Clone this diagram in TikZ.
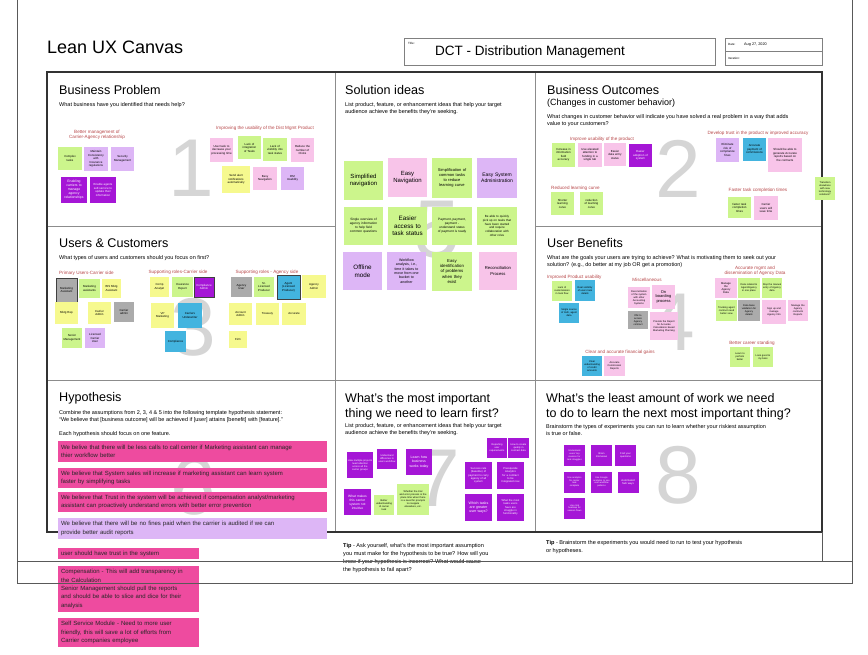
\documentclass[tikz,border=0pt]{standalone}
\usepackage{fontspec}
\setmainfont{Liberation Sans}

\definecolor{notegreen}{HTML}{CCF58C}
\definecolor{notepink}{HTML}{F8C4E9}
\definecolor{notelav}{HTML}{DDB6F6}
\definecolor{notepurple}{HTML}{A516D6}
\definecolor{noteyellow}{HTML}{F6F98E}
\definecolor{noteblue}{HTML}{43B4DF}
\definecolor{notegray}{HTML}{ABABAB}
\definecolor{hotpink}{HTML}{EE4B9F}
\definecolor{labelred}{HTML}{B8484A}
\definecolor{bignum}{HTML}{D5D5D5}

\begin{document}
\begin{tikzpicture}[x=1pt,y=-1pt,
  note/.style 2 args={minimum width=#1, minimum height=#2, text width=#1pt,
    inner sep=0pt, align=center, font=\fontsize{2.9}{3.5}\selectfont},
  gn/.style={fill=notegreen}, pk/.style={fill=notepink}, lv/.style={fill=notelav},
  pu/.style={fill=notepurple, text=white}, ye/.style={fill=noteyellow},
  bl/.style={fill=noteblue}, gy/.style={fill=notegray},
  rim/.style={draw=black!75, line width=0.9pt},
  lab/.style={text=labelred, align=center, inner sep=0pt, font=\fontsize{4.6}{5.6}\selectfont},
  head/.style={anchor=base west, inner sep=0pt, font=\fontsize{12.6}{15}\selectfont},
  sub/.style={anchor=north west, align=left, inner sep=0pt, font=\fontsize{5.5}{7}\selectfont},
  num/.style={anchor=base, text=bignum, inner sep=0pt, font=\fontsize{82}{82}\selectfont},
  hyp/.style={minimum width=269, minimum height=#1, text width=263pt, inner xsep=3pt,
    inner ysep=0pt, align=left, text=black!85, font=\fontsize{6}{8.2}\selectfont},
  memo/.style={fill=hotpink, minimum width=141, minimum height=#1, text width=135pt, inner xsep=3pt,
    inner ysep=0pt, align=left, text=black!85, font=\fontsize{6}{8.3}\selectfont},
  divider/.style={draw=black!45, line width=0.8pt},
  pageline/.style={draw=black!65, line width=0.8pt}
]
\useasboundingbox (0,0) rectangle (868,655);
\fill[white] (0,0) rectangle (868,655);

% Header
\node[anchor=base west, inner sep=0pt, font=\fontsize{18}{20}\selectfont] (canvastitle) at (47,53.5) {Lean UX Canvas};
\draw[draw=black!50, line width=0.6pt] (404,38) rectangle (715,65);
\node[anchor=north west, inner sep=0pt, font=\fontsize{3}{3}\selectfont] (titlelab) at (408,42) {Title:};
\node[anchor=base west, inner sep=0pt, font=\fontsize{13.5}{15}\selectfont] (projtitle) at (435,56) {DCT - Distribution Management};
\draw[draw=black!50, line width=0.6pt] (725,38) rectangle (822,51);
\draw[draw=black!50, line width=0.6pt] (725,51) rectangle (822,65);
\node[anchor=west, inner sep=0pt, font=\fontsize{3}{3}\selectfont] (datelab) at (728,44.5) {Date:};
\node[anchor=west, inner sep=0pt, font=\fontsize{3.8}{4}\selectfont] (datetxt) at (744,44.5) {Aug 27, 2020};
\node[anchor=west, inner sep=0pt, font=\fontsize{3}{3}\selectfont] (iterlab) at (728,58) {Iteration:};

% Big numbers
\foreach \n/\x/\y in {1/191/197, 2/678/198, 3/193/355, 4/672/350, 5/437/258, 6/193/514, 7/437/506, 8/678/503}
  \node[num] (big\n) at (\x,\y) {\n};

% Canvas frame and dividers
\draw[divider] (335,72) -- (335,532);
\draw[divider] (535,72) -- (535,532);
\draw[divider] (47,226) -- (335,226);
\draw[divider] (535,226) -- (822,226);
\draw[divider] (47,380) -- (822,380);
\draw[draw=black!80, line width=1.6pt] (47,72) rectangle (822,532);
\draw[pageline] (822,532) -- (822,561);

% Business Problem
\node[head] (bphead) at (59,94.5) {Business Problem};
\node[sub] (bpsub) at (59,102.5) {What business have you identified that needs help?};
\node[lab] (bplab1) at (97,135) {Better management of\\Carrier-Agency relationship};
\node[lab] (bplab2) at (265,128) {Improving the usability of the Dist Mgmt Product};
\node[note={24}{23}, gn] (bp1) at (70,158.5) {Complex\\tasks};
\node[note={24}{24}, lv] (bp2) at (96,159) {Maintain\\Consistency\\with\\Insurance\\regulations};
\node[note={23}{24}, lv] (bp3) at (122.5,159) {Security\\Management};
\node[note={26}{26}, pu, font=\fontsize{3.4}{4}\selectfont] (bp4) at (74,190) {Enabling\\carriers to\\manage\\agency\\relationships};
\node[note={26}{26}, pu] (bp5) at (103,190) {Enable agents\\self-service to\\update their\\information};
\node[note={23}{24}, pk] (bp6) at (221.5,150) {User task to\\decrease your\\processing time};
\node[note={23}{23}, gn] (bp7) at (249.5,147.5) {Lack of\\integration\\of Tasks};
\node[note={24}{23}, gn] (bp8) at (275,149.5) {Lack of\\visibility into\\task status};
\node[note={23}{24}, pk] (bp9) at (302.5,150) {Reduce the\\number of\\Clicks};
\node[note={28}{27}, ye] (bp10) at (236,179.5) {Send alert\\notifications\\automatically};
\node[note={24}{23}, pk] (bp11) at (265,178.5) {Easy\\Navigation};
\node[note={23}{23}, lv] (bp12) at (292.5,178.5) {DM\\Usability};

% Solution ideas
\node[head] (sihead) at (345,94.5) {Solution ideas};
\node[sub] (sisub) at (345,102.5) {List product, feature, or enhancement ideas that help your target\\audience achieve the benefits they're seeking.};
\node[note={39}{39}, gn, font=\fontsize{6}{7.4}\selectfont] (si1) at (363.5,180.5) {Simplified\\navigation};
\node[note={39}{39}, pk, font=\fontsize{6}{7.4}\selectfont] (si2) at (407.5,177.5) {Easy\\Navigation};
\node[note={40}{40}, gn, font=\fontsize{4}{5}\selectfont] (si3) at (452,178) {Simplification of\\common tasks\\to reduce\\learning curve};
\node[note={40}{40}, lv, font=\fontsize{5}{6.2}\selectfont] (si4) at (497,178) {Easy System\\Administration};
\node[note={39}{38}, gn, font=\fontsize{3.2}{4}\selectfont] (si5) at (363.5,226) {Single overview of\\agency information\\to help field\\common questions};
\node[note={39}{38}, gn, font=\fontsize{6.3}{7.6}\selectfont] (si6) at (407.5,226) {Easier\\access to\\task status};
\node[note={40}{38}, gn, font=\fontsize{3.2}{4}\selectfont] (si7) at (452,226) {Payment, payment,\\payment -\\understand status\\of payment is ready};
\node[note={40}{38}, gn, font=\fontsize{3}{3.7}\selectfont] (si8) at (497,226) {Be able to quickly\\pick up on tasks that\\have been started\\and require\\collaboration with\\other roles};
\node[note={39}{38}, lv, font=\fontsize{6.3}{7.6}\selectfont] (si9) at (362.5,271) {Offline\\mode};
\node[note={39}{38}, lv, font=\fontsize{3.6}{4.4}\selectfont] (si10) at (406.5,271) {Workflow\\analysis, i.e.,\\time it takes to\\move from one\\bucket to\\another};
\node[note={40}{39}, gn, font=\fontsize{4.3}{5.3}\selectfont] (si11) at (452,271.5) {Easy\\identification\\of problems\\when they\\exist};
\node[note={38}{38}, pk, font=\fontsize{4.2}{5.2}\selectfont] (si12) at (498,271) {Reconciliation\\Process};

% Business Outcomes
\node[head] (bohead) at (547,94.5) {Business Outcomes};
\node[anchor=base west, inner sep=0pt, font=\fontsize{9}{10}\selectfont] (bohead2) at (547,105.5) {(Changes in customer behavior)};
\node[sub] (bosub) at (547,114.5) {What changes in customer behavior will indicate you have solved a real problem in a way that adds\\value to your customers?};
\node[lab] (bolab1) at (602,139) {Improve usability of the product};
\node[lab] (bolab2) at (758,133) {Develop trust in the product w improved accuracy};
\node[lab, anchor=west] (bolab3) at (551,188) {Reduced learning curve};
\node[lab] (bolab4) at (758,190) {Faster task completion times};
\node[note={23}{24}, gn] (bo1) at (563.5,155) {Increase in\\information\\field\\accuracy};
\node[note={24}{24}, pk] (bo2) at (590,155) {Use elevated\\attention to\\funding in a\\single tab};
\node[note={22}{23}, pk] (bo3) at (615,154.5) {Easier\\data entry\\status};
\node[note={23}{23}, pu] (bo4) at (640.5,155.5) {Easier\\adoption of\\system};
\node[note={23}{24}, lv] (bo5) at (727.5,150) {Eliminate\\risk of\\compliance\\fines};
\node[note={23}{23}, bl] (bo6) at (754.5,149.5) {Accurate\\payment of\\commissions};
\node[note={34}{34}, pk] (bo7) at (785,155) {Should be able to\\generate Accurate\\reports based on\\the contracts};
\node[note={23}{23}, gn] (bo8) at (562.5,203.5) {Shorter\\learning\\curve};
\node[note={23}{23}, gn] (bo9) at (591.5,203.5) {reduction\\of learning\\curve};
\node[note={23}{21}, gn] (bo10) at (739.5,207.5) {faster task\\completion\\times};
\node[note={24}{24}, pk] (bo11) at (766,208) {Carrier\\users will\\save time};
\node[note={20}{23}, gn, font=\fontsize{2.5}{3}\selectfont] (bo12) at (825,188.5) {Transition\\elsewhere\\with new\\technology\\solutions?};

% Users & Customers
\node[head] (uchead) at (59,247.5) {Users \& Customers};
\node[sub] (ucsub) at (59,255.5) {What types of users and customers should you focus on first?};
\node[lab, anchor=west] (uclab1) at (59,273) {Primary Users-Carrier side};
\node[lab] (uclab2) at (178,272) {Supporting roles-Carrier side};
\node[lab] (uclab3) at (267,272) {Supporting roles - Agency side};
\node[note={21}{24}, gy, rim] (uc1) at (66.5,290) {Marketing\\Assistant};
\node[note={21}{19}, gn] (uc2) at (89.5,288.5) {Marketing\\assistants};
\node[note={19}{19}, ye] (uc3) at (111.5,288.5) {BIS Mktg\\Assistant};
\node[note={23}{22}, ye] (uc4) at (66.5,313) {Mktg Rep};
\node[note={23}{22}, ye] (uc5) at (99.5,313) {Carrier\\Admin};
\node[note={20}{20}, gy] (uc6) at (124,312) {Carrier\\admin};
\node[note={20}{20}, gn] (uc7) at (72,338) {Senior\\Management};
\node[note={20}{20}, lv] (uc8) at (95,338) {Licensed\\Carrier\\User};
\node[note={19}{20}, ye] (uc9) at (159.5,287) {Comp\\Analyst};
\node[note={21}{20}, gn] (uc10) at (182.5,287) {Insurance\\Expert};
\node[note={20}{20}, pu, rim] (uc11) at (204,287) {Compliance\\Admin};
\node[note={23}{25}, ye] (uc12) at (162.5,315.5) {VP\\Marketing};
\node[note={24}{25}, bl] (uc13) at (190,315.5) {Carriers\\Underwriter};
\node[note={21}{21}, bl] (uc14) at (175.5,341.5) {Compliance};
\node[note={21}{20}, gy] (uc15) at (241.5,287) {Agency\\User};
\node[note={20}{20}, gn] (uc16) at (264,287) {Sr.\\Licensed\\Producer};
\node[note={23}{24}, bl, rim] (uc17) at (288.5,287) {Agent\\(Licensed\\Producer)};
\node[note={24}{23}, ye] (uc18) at (314,286.5) {Agency\\Admin};
\node[note={23}{22}, ye] (uc19) at (240.5,314) {Account\\Admin};
\node[note={23}{22}, ye] (uc20) at (267.5,314) {Treasury};
\node[note={24}{22}, ye] (uc21) at (294,314) {Accurate};
\node[note={18}{17}, ye] (uc22) at (238,339.5) {Firm};

% User Benefits
\node[head] (ubhead) at (547,247.5) {User Benefits};
\node[sub] (ubsub) at (547,255.5) {What are the goals your users are trying to achieve? What is motivating them to seek out your\\solution? (e.g., do better at my job OR get a promotion)};
\node[lab, anchor=west] (ublab1) at (547,277) {Improved Product usability};
\node[lab] (ublab2) at (647,280) {Miscellaneous};
\node[lab] (ublab3) at (755,271) {Accurate mgmt and\\dissemination of Agency Data};
\node[lab] (ublab4) at (752,343) {Better career standing};
\node[lab] (ublab5) at (620,352) {Clear and accurate financial gains};
\node[note={20}{20}, gn, font=\fontsize{2.5}{3}\selectfont] (ub1) at (562,291) {Lack of\\customization\\in task flow};
\node[note={20}{21}, bl, font=\fontsize{2.5}{3}\selectfont] (ub2) at (585,290.5) {Real visibility\\of users task\\details};
\node[note={20}{20}, bl, font=\fontsize{2.5}{3}\selectfont] (ub3) at (569,313) {Single source\\of truth, agent\\data};
\node[note={22}{21}, pk, font=\fontsize{2.5}{3}\selectfont] (ub4) at (639,297.5) {Reconciliation\\of the system\\with other\\Accounting\\Systems};
\node[note={23}{24}, pk, font=\fontsize{4}{4.8}\selectfont] (ub5) at (663.5,297) {On\\boarding\\process};
\node[note={20}{18}, gy, font=\fontsize{2.5}{3}\selectfont] (ub6) at (638,320) {DM to\\access\\Agency\\contract};
\node[note={28}{28}, pk, font=\fontsize{2.5}{3}\selectfont] (ub7) at (664,326) {Provide the Report\\for Accurate\\Calculations based\\Marketing Planning};
\node[note={22}{20}, pk, font=\fontsize{2.7}{3.2}\selectfont] (ub8) at (726,288) {Manage\\the\\Agency\\Data};
\node[note={22}{20}, gn, font=\fontsize{2.5}{3}\selectfont] (ub9) at (749,288) {Data related to\\Agent/Agency\\in one place};
\node[note={20}{20}, gn, font=\fontsize{2.5}{3}\selectfont] (ub10) at (772,288) {Stop the manual\\entry of Agency\\data};
\node[note={21}{21}, gn, font=\fontsize{2.5}{3}\selectfont] (ub11) at (726.5,310.5) {Tracking agent\\contract need\\better view};
\node[note={22}{21}, gy, font=\fontsize{2.5}{3}\selectfont] (ub12) at (749,310.5) {Data base\\validation for\\Agency\\details};
\node[note={24}{24}, pk, font=\fontsize{2.5}{3}\selectfont] (ub13) at (774,312) {Sign up and\\manage\\Agency Info};
\node[note={20}{21}, pk, font=\fontsize{2.5}{3}\selectfont] (ub14) at (798,310.5) {Manage the\\Agency\\contracts\\Reports};
\node[note={20}{20}, gn, font=\fontsize{2.5}{3}\selectfont] (ub15) at (740,357) {Learn to\\perform\\better};
\node[note={20}{20}, gn, font=\fontsize{2.5}{3}\selectfont] (ub16) at (763,357) {Look good to\\my boss};
\node[note={20}{20}, bl, font=\fontsize{2.5}{3}\selectfont] (ub17) at (592,366) {Clear\\understanding\\of credit\\amounts};
\node[note={21}{20}, pk, font=\fontsize{2.5}{3}\selectfont] (ub18) at (614.5,366) {Accurate\\Commission\\Reports};

% Hypothesis
\node[head] (hyhead) at (59,401.5) {Hypothesis};
\node[sub] (hysub) at (59,410.5) {Combine the assumptions from 2, 3, 4 \& 5 into the following template hypothesis statement:\\“We believe that [business outcome] will be achieved if [user] attains [benefit] with [feature].”};
\node[sub] (hysub2) at (59,431.5) {Each hypothesis should focus on one feature.};
\node[hyp=21, fill=hotpink] (hy1) at (192.5,451.5) {We belive that there will be less calls to call center if Marketing assistant can manage\\thier workflow better};
\node[hyp=20, fill=hotpink] (hy2) at (192.5,478) {We believe that System sales will increase if marketing assistant can learn system\\faster by simplifying tasks};
\node[hyp=20, fill=hotpink] (hy3) at (192.5,502) {We believe that Trust in the system will be achieved if compensation analyst/marketing\\assistant can proactively understand errors with better error prevention};
\node[hyp=21, fill=notelav] (hy4) at (192.5,528.5) {We believe that there will be no fines paid when the carrier is audited if we can\\provide better audit reports};
\node[memo=11] (hb1) at (128.5,553.5) {user should have trust in the system};
\node[memo=46] (hb2) at (128.5,589) {Compensation - This will add transparency in\\the Calculation\\Senior Management should pull the reports\\and should be able to slice and dice for their\\analysis};
\node[memo=29] (hb3) at (128.5,632.5) {Self Service Module - Need to more user\\friendly, this will save a lot of efforts from\\Carrier companies employee};

% What's the most important thing
\node[anchor=base west, align=left, inner sep=0pt, font=\fontsize{12.5}{15}\selectfont] (mihead) at (345,417.5) {What's the most important\\thing we need to learn first?};
\node[sub] (misub) at (345,423.5) {List product, feature, or enhancement ideas that help your target\\audience achieve the benefits they're seeking.};
\node[note={26}{26}, pu, font=\fontsize{2.5}{3}\selectfont] (mi1) at (360,465) {How multiple projects\\need attention\\across all the\\carrier groups};
\node[note={20}{20}, pu, font=\fontsize{2.5}{3}\selectfont] (mi2) at (387,459) {Understand\\difference in\\users workflow};
\node[note={26}{26}, pu, font=\fontsize{3.5}{4.2}\selectfont] (mi3) at (419,462) {Learn how\\business\\works today};
\node[note={27}{26}, pu, font=\fontsize{3.3}{4}\selectfont] (mi4) at (357.5,502) {What makes\\this carrier\\system not\\intuitive};
\node[note={20}{20}, gn, font=\fontsize{2.5}{3}\selectfont] (mi5) at (384,505) {Better\\understanding\\of carrier\\task};
\node[note={32}{31}, gn, font=\fontsize{2.5}{3}\selectfont] (mi6) at (413,499.5) {Whether the trial\\and error process is the\\place time when there\\is a need for prompts\\to navigate\\elsewhere, etc.};
\node[note={20}{20}, pu, font=\fontsize{2.5}{3}\selectfont] (mi7) at (497,448) {Reporting\\user\\requirements};
\node[note={21}{20}, pu, font=\fontsize{2.5}{3}\selectfont] (mi8) at (518.5,448) {How to create\\quality in\\contract data};
\node[note={27}{27}, pu, font=\fontsize{2.7}{3.3}\selectfont] (mi9) at (478.5,475.5) {Success rate\\(baseline) of\\payment to carry\\agency of all\\system};
\node[note={27}{27}, pu, font=\fontsize{2.7}{3.3}\selectfont] (mi10) at (510.5,475.5) {Prerequisite\\Analytics\\for a contract\\to be\\Integrated now};
\node[note={27}{27}, pu, font=\fontsize{3.6}{4.3}\selectfont] (mi11) at (478.5,507.5) {Which tasks\\are greater\\user ways?};
\node[note={27}{27}, pu, font=\fontsize{2.7}{3.3}\selectfont] (mi12) at (510.5,507.5) {What the most\\tasks users\\have are\\struggle in\\functionality};
\node[anchor=north west, align=left, inner sep=0pt, font=\fontsize{5.6}{8}\selectfont] (mitip) at (343,543.5) {\textbf{Tip} - Ask yourself, what's the most important assumption\\you must make for the hypothesis to be true? How will you\\know if your hypothesis is incorrect? What would cause\\the hypothesis to fail apart?};

% What's the least amount of work
\node[anchor=base west, align=left, inner sep=0pt, font=\fontsize{12.5}{15}\selectfont] (lahead) at (546,417.5) {What's the least amount of work we need\\to do to learn the next most important thing?};
\node[sub] (lasub) at (546,424.5) {Brainstorm the types of experiments you can run to learn whether your riskiest assumption\\is true or false.};
\node[note={21}{21}, pu, font=\fontsize{2.3}{2.8}\selectfont] (la1) at (574.5,455.5) {Understand\\users' top\\reasons for\\task struggles};
\node[note={21}{21}, pu, font=\fontsize{2.5}{3}\selectfont] (la2) at (601.5,455.5) {Brain\\Interviews};
\node[note={21}{21}, pu, font=\fontsize{2.5}{3}\selectfont] (la3) at (625.5,455.5) {Find your\\questions};
\node[note={21}{21}, pu, font=\fontsize{2.3}{2.8}\selectfont] (la4) at (574.5,482) {Use analytics\\for carrier\\task\\complete};
\node[note={21}{21}, pu, font=\fontsize{2.3}{2.8}\selectfont] (la5) at (601.5,482) {Use Google\\analytics to see\\user workflow\\patterns};
\node[note={21}{21}, pu, font=\fontsize{2.7}{3.2}\selectfont] (la6) at (628,482) {Automated\\Sub ways};
\node[note={21}{21}, pu, font=\fontsize{2.3}{2.8}\selectfont] (la7) at (574.5,508) {Use click\\heatmap for\\session flows};
\node[anchor=north west, align=left, inner sep=0pt, font=\fontsize{5.6}{8}\selectfont] (latip) at (546,540.5) {\textbf{Tip} - Brainstorm the experiments you would need to run to test your hypothesis\\or hypotheses.};

% Page border
\draw[pageline] (17,0) -- (17,583) -- (852,583) -- (852,0);
\draw[pageline] (17,561) -- (852,561);
\end{tikzpicture}
\end{document}
